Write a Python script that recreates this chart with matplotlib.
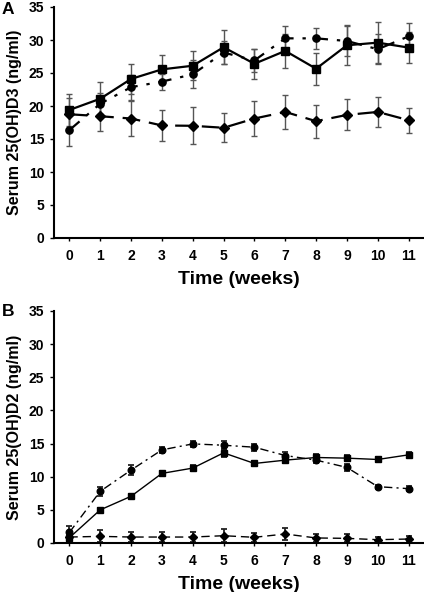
import matplotlib
matplotlib.use("Agg")
import matplotlib.pyplot as plt
import numpy as np

plt.rcParams['font.family'] = ['Liberation Sans', 'DejaVu Sans']
plt.rcParams['font.weight'] = 'bold'

weeks = list(range(12))

# Panel A: serum 25(OH)D3
a_square = [19.4, 21.1, 24.1, 25.55, 26.1, 28.9, 26.4, 28.35, 25.65, 29.2, 29.6, 28.85]
a_square_err = [2.4, 2.5, 2.3, 2.2, 2.2, 2.6, 2.3, 2.6, 2.4, 3.0, 3.1, 2.4]
a_circle = [16.35, 20.35, 22.85, 23.7, 24.8, 28.1, 26.9, 30.25, 30.25, 29.85, 28.6, 30.55]
a_circle_err = [2.4, 1.6, 1.9, 1.2, 2.1, 1.8, 1.8, 1.85, 1.6, 2.3, 2.3, 2.1]
a_diamond = [18.75, 18.45, 18.1, 17.05, 17.0, 16.7, 18.1, 19.1, 17.7, 18.65, 19.1, 17.85]
a_diamond_err = [2.4, 2.3, 2.6, 2.3, 2.8, 2.2, 2.65, 2.6, 2.5, 2.35, 2.3, 1.9]

# Panel B: serum 25(OH)D2
b_square = [0.8, 5.0, 7.05, 10.5, 11.3, 13.6, 12.0, 12.5, 12.9, 12.8, 12.6, 13.3]
b_square_err = [0.5, 0.3, 0.4, 0.4, 0.5, 0.6, 0.4, 0.5, 0.5, 0.5, 0.4, 0.4]
b_circle = [1.6, 7.8, 11.0, 14.05, 14.95, 14.75, 14.45, 13.2, 12.5, 11.4, 8.5, 8.2]
b_circle_err = [0.9, 0.7, 0.7, 0.5, 0.4, 0.6, 0.5, 0.5, 0.5, 0.5, 0.3, 0.4]
b_diamond = [0.9, 1.0, 0.9, 0.9, 0.9, 1.1, 0.86, 1.36, 0.76, 0.7, 0.5, 0.6]
b_diamond_err = [0.7, 0.9, 0.8, 0.8, 0.8, 1.0, 0.7, 0.9, 0.6, 0.6, 0.4, 0.5]

yticks = [0, 5, 10, 15, 20, 25, 30, 35]

fig = plt.figure(figsize=(4.24, 5.92), dpi=100)
W, H = 424, 592

def make_ax(top_px, bottom_px):
    left = 54 / W
    width = 370 / W
    return fig.add_axes([left, (H - bottom_px) / H, width, (bottom_px - top_px) / H])

ecol = '#4a4a4a'

def draw(ax, sq, sqe, ci, cie, di, die, ylabel, letter, letter_y,
         lw, ms, dash_d, dash_c, ecol, elw):
    kw = dict(ecolor=ecol, elinewidth=elw, capsize=2.5, capthick=elw, color='black')
    ax.errorbar(weeks, di, yerr=die, marker='D', markersize=ms * 0.85, lw=lw,
                dashes=dash_d, **kw)
    ax.errorbar(weeks, ci, yerr=cie, marker='o', markersize=ms * 0.95, lw=lw,
                dashes=dash_c, **kw)
    ax.errorbar(weeks, sq, yerr=sqe, marker='s', markersize=ms, lw=lw,
                linestyle='-', **kw)
    ax.set_xlim(-0.5, 11.5)
    ax.set_ylim(0, 35)
    ax.set_yticks(yticks)
    ax.set_xticks(weeks)
    for s in ['top', 'right']:
        ax.spines[s].set_visible(False)
    ax.spines['left'].set_linewidth(1.5)
    ax.spines['bottom'].set_linewidth(1.5)
    ax.tick_params(axis='y', direction='out', length=3, width=1, labelsize=10, pad=4)
    ax.tick_params(axis='x', direction='out', length=2, width=1, labelsize=10, pad=6)
    for lab in ax.get_xticklabels() + ax.get_yticklabels():
        lab.set_fontweight('bold')
    ax.set_xlabel('Time (weeks)', fontsize=14, fontweight='bold', labelpad=6)
    ax.set_ylabel(ylabel, fontsize=11.5, fontweight='bold', labelpad=5)
    fig.text(2 / W, 1 - letter_y / H, letter, fontsize=12.5,
             fontweight='bold', ha='left', va='center')

axA = make_ax(7, 238)
draw(axA, a_square, a_square_err, a_circle, a_circle_err, a_diamond, a_diamond_err,
     'Serum 25(OH)D3 (ng/ml)', 'A', 9,
     lw=1.6, ms=5.5, dash_d=(8, 4), dash_c=(6, 4, 1.5, 4), ecol='#555555', elw=1.0)
axB = make_ax(311, 543)
draw(axB, b_square, b_square_err, b_circle, b_circle_err, b_diamond, b_diamond_err,
     'Serum 25(OH)D2 (ng/ml)', 'B', 312,
     lw=1.0, ms=5.0, dash_d=(6, 3.5), dash_c=(6, 3, 1.5, 3), ecol='#222222', elw=1.3)

fig.savefig('out.png', dpi=100)
